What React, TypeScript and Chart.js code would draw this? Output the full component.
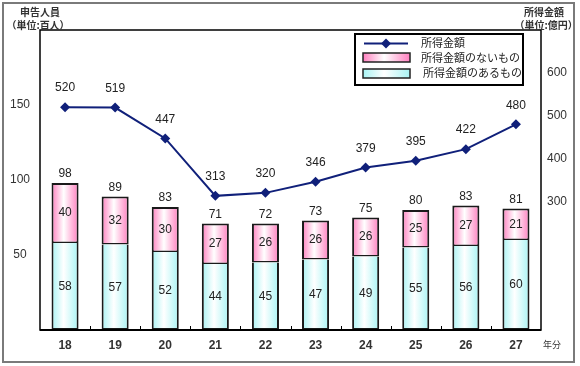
import React, { useEffect, useRef } from "react";
import { Chart, registerables } from "chart.js";
Chart.register(...registerables);

const years = ["18", "19", "20", "21", "22", "23", "24", "25", "26", "27"];
const withIncome = [58, 57, 52, 44, 45, 47, 49, 55, 56, 60];
const withoutIncome = [40, 32, 30, 27, 26, 26, 26, 25, 27, 21];
const totals = [98, 89, 83, 71, 72, 73, 75, 80, 83, 81];
const incomeAmount = [520, 519, 447, 313, 320, 346, 379, 395, 422, 480];
const leftTicks = [50, 100, 150];
const rightTicks = [300, 400, 500, 600];

const BAR_PCT = 0.54;
const NUM_FONT = "12px 'Liberation Sans', Arial, sans-serif";
const JP = "'Noto Sans CJK JP', sans-serif";
const LINE_COLOR = "#10207a";

function barGradient(ctx: CanvasRenderingContext2D, x0: number, x1: number, edge: string) {
  const g = ctx.createLinearGradient(x0, 0, x1, 0);
  g.addColorStop(0, edge);
  g.addColorStop(0.45, "#ffffff");
  g.addColorStop(1, edge);
  return g;
}

function scriptedFill(edge: string) {
  return (c: any) => {
    const chart = c.chart;
    const xs = chart.scales && chart.scales.x;
    const area = chart.chartArea;
    if (!xs || !area || c.dataIndex === undefined) return edge;
    const cx = xs.getPixelForValue(c.dataIndex);
    const w = ((area.right - area.left) / years.length) * BAR_PCT;
    if (!isFinite(cx) || !isFinite(w) || w <= 0) return edge;
    return barGradient(chart.ctx, cx - w / 2, cx + w / 2, edge);
  };
}

const PINK = "#ff7fbf";
const CYAN = "#a8f4f4";

function drawDiamond(ctx: CanvasRenderingContext2D, x: number, y: number, r: number) {
  ctx.beginPath();
  ctx.moveTo(x, y - r);
  ctx.lineTo(x + r, y);
  ctx.lineTo(x, y + r);
  ctx.lineTo(x - r, y);
  ctx.closePath();
  ctx.fill();
}

const decorPlugin = {
  id: "decor",
  beforeDraw(chart: any) {
    const ctx = chart.ctx as CanvasRenderingContext2D;
    ctx.save();
    ctx.fillStyle = "#ffffff";
    ctx.fillRect(0, 0, chart.width, chart.height);
    ctx.restore();
  },
  afterDatasetsDraw(chart: any) {
    const ctx = chart.ctx as CanvasRenderingContext2D;
    const { left, right, top, bottom } = chart.chartArea;
    const xs = chart.scales.x;
    const y = chart.scales.y;
    const y1 = chart.scales.y1;
    ctx.save();

    // outer border
    ctx.strokeStyle = "#7a7a7a";
    ctx.lineWidth = 2;
    ctx.strokeRect(3, 3, 571, 359);

    // plot frame
    ctx.strokeStyle = "#000";
    ctx.lineWidth = 1.5;
    ctx.strokeRect(left, top, right - left, bottom - top);
    ctx.lineWidth = 2;
    ctx.beginPath();
    ctx.moveTo(left, bottom);
    ctx.lineTo(right, bottom);
    ctx.stroke();

    // category boundary ticks
    ctx.lineWidth = 1;
    const step = (right - left) / years.length;
    for (let k = 1; k < years.length; k++) {
      const x = Math.round(left + step * k) + 0.5;
      ctx.beginPath();
      ctx.moveTo(x, bottom);
      ctx.lineTo(x, bottom - 4);
      ctx.stroke();
    }

    // left / right ticks
    ctx.fillStyle = "#333";
    ctx.font = NUM_FONT;
    ctx.textAlign = "center";
    ctx.textBaseline = "middle";
    leftTicks.forEach((v) => ctx.fillText(String(v), 20, y.getPixelForValue(v)));
    rightTicks.forEach((v) => ctx.fillText(String(v), 557, y1.getPixelForValue(v)));

    // x labels
    ctx.font = "bold 12px 'Liberation Sans', Arial, sans-serif";
    ctx.fillStyle = "#333";
    years.forEach((lab, i) => ctx.fillText(lab, xs.getPixelForValue(i), 346));
    ctx.font = `9px ${JP}`;
    ctx.fillText("年分", 552, 345);

    // axis titles
    ctx.font = `bold 10px ${JP}`;
    ctx.fillStyle = "#333";
    ctx.fillText("申告人員", 40, 12);
    ctx.fillText("（単位:百人）", 38, 25);
    ctx.fillText("所得金額", 544, 12);
    ctx.fillText("（単位:億円）", 546, 25);

    // bar labels
    ctx.font = NUM_FONT;
    ctx.fillStyle = "#222";
    years.forEach((_, i) => {
      const cx = xs.getPixelForValue(i);
      const yb = y.getPixelForValue(0);
      const yc = y.getPixelForValue(withIncome[i]);
      const yt = y.getPixelForValue(withIncome[i] + withoutIncome[i]);
      ctx.fillText(String(withIncome[i]), cx, (yb + yc) / 2);
      ctx.fillText(String(withoutIncome[i]), cx, (yc + yt) / 2);
      ctx.fillText(String(totals[i]), cx, yt - 9);
      ctx.fillText(String(incomeAmount[i]), cx, y1.getPixelForValue(incomeAmount[i]) - 19);
    });

    // legend
    const lx = 355, ly = 34, lw = 168, lh = 51;
    ctx.fillStyle = "#fff";
    ctx.fillRect(lx, ly, lw, lh);
    ctx.strokeStyle = "#000";
    ctx.lineWidth = 2;
    ctx.strokeRect(lx, ly, lw, lh);
    ctx.strokeStyle = LINE_COLOR;
    ctx.fillStyle = LINE_COLOR;
    ctx.lineWidth = 2;
    ctx.beginPath();
    ctx.moveTo(364, 43.5);
    ctx.lineTo(408, 43.5);
    ctx.stroke();
    drawDiamond(ctx, 386, 43.5, 5);
    ctx.fillStyle = barGradient(ctx, 363, 410, PINK);
    ctx.fillRect(363, 53, 47, 9);
    ctx.strokeStyle = "#222";
    ctx.lineWidth = 1.5;
    ctx.strokeRect(363, 53, 47, 9);
    ctx.fillStyle = barGradient(ctx, 363, 410, CYAN);
    ctx.fillRect(363, 69, 47, 9);
    ctx.strokeRect(363, 69, 47, 9);
    ctx.fillStyle = "#222";
    ctx.font = `11px ${JP}`;
    ctx.textAlign = "left";
    ctx.fillText("所得金額", 421, 43);
    ctx.fillText("所得金額のないもの", 421, 58);
    ctx.fillText("所得金額のあるもの", 423, 73);

    ctx.restore();
  },
};

export default function App() {
  const ref = useRef<HTMLCanvasElement | null>(null);
  useEffect(() => {
    document.body.style.margin = "0";
    const canvas = ref.current!;
    const chart = new Chart(canvas, {
      type: "bar",
      data: {
        labels: years,
        datasets: [
          {
            type: "line",
            label: "所得金額",
            data: incomeAmount,
            yAxisID: "y1",
            borderColor: LINE_COLOR,
            backgroundColor: LINE_COLOR,
            borderWidth: 2,
            pointStyle: "rectRot",
            pointRadius: 5,
            pointBorderWidth: 0,
            tension: 0,
            order: 0,
          } as any,
          {
            label: "所得金額のあるもの",
            data: withIncome,
            yAxisID: "y",
            backgroundColor: scriptedFill(CYAN),
            borderColor: "#1a1a1a",
            borderWidth: 2,
            borderSkipped: "top",
            barPercentage: BAR_PCT,
            categoryPercentage: 1,
            stack: "s",
            order: 1,
          },
          {
            label: "所得金額のないもの",
            data: withoutIncome,
            yAxisID: "y",
            backgroundColor: scriptedFill(PINK),
            borderColor: "#1a1a1a",
            borderWidth: { top: 2, left: 2, right: 2, bottom: 1.5 },
            borderSkipped: false,
            barPercentage: BAR_PCT,
            categoryPercentage: 1,
            stack: "s",
            order: 1,
          },
        ],
      },
      options: {
        animation: false,
        responsive: false,
        layout: { padding: { left: 40, top: 30, right: 39, bottom: 36 } },
        plugins: { legend: { display: false }, tooltip: { enabled: false } },
        scales: {
          x: { display: false, stacked: true, offset: true },
          y: { display: false, stacked: true, min: 0, max: 200 },
          y1: { display: false, position: "right", min: 0, max: 700 },
        },
      },
      plugins: [decorPlugin],
    });
    return () => chart.destroy();
  }, []);
  return (
    <div style={{ position: "absolute", left: 0, top: 0, width: 580, height: 366 }}>
      <canvas ref={ref} width={580} height={366} style={{ width: 580, height: 366 }} />
    </div>
  );
}
